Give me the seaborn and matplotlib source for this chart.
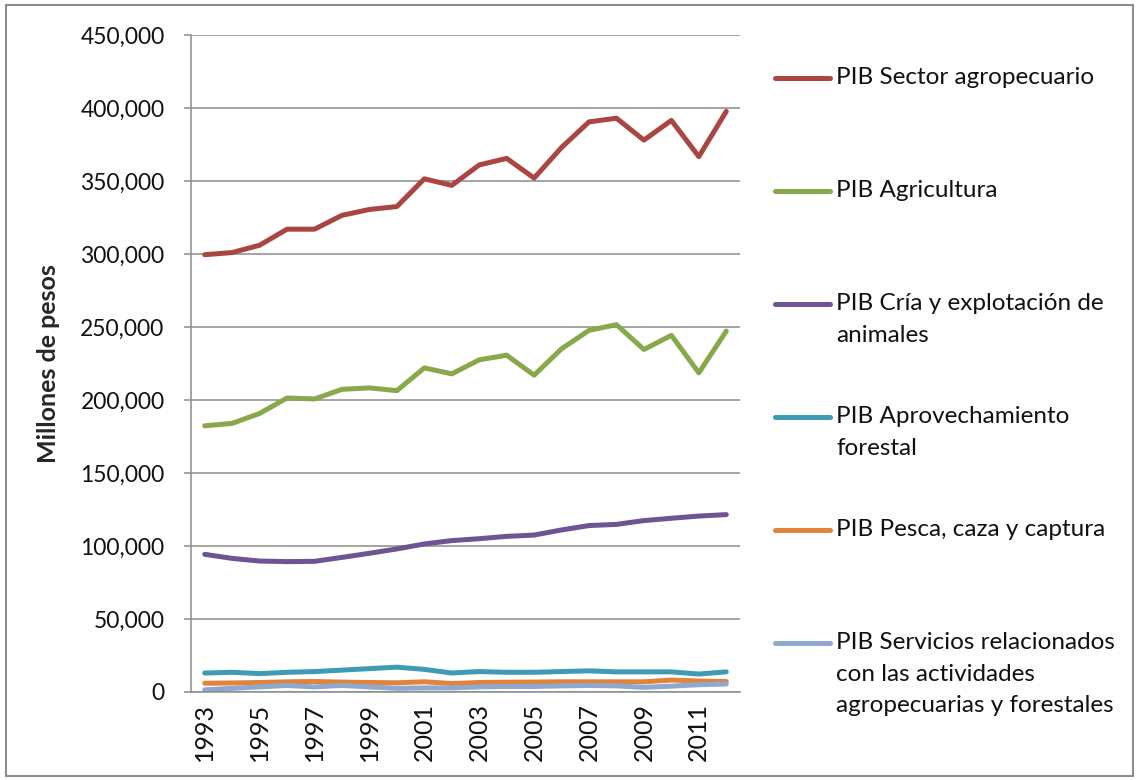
# PIB del sector agropecuario, 1993-2012

import pandas as pd
import matplotlib.pyplot as plt
import seaborn as sns
from matplotlib.lines import Line2D
from matplotlib.patches import Rectangle
from matplotlib.ticker import FuncFormatter

# Data (millones de pesos)
years = list(range(1993, 2013))

sector = [299500, 301000, 306000, 317000, 317000, 326500, 330500, 332500, 351500, 347000,
          361000, 365500, 352000, 373000, 390500, 393000, 378000, 391500, 366700, 397700]
agricultura = [182300, 184000, 190800, 201400, 200700, 207300, 208300, 206400, 222000, 217900,
               227500, 230700, 217000, 235100, 247700, 251600, 234600, 244300, 218600, 247200]
cria = [94300, 91500, 89700, 89300, 89500, 92200, 95000, 98000, 101400, 103700,
        105000, 106600, 107500, 111000, 114000, 114800, 117400, 119000, 120500, 121500]
forestal = [13000, 13500, 12600, 13500, 14000, 15000, 16000, 17000, 15500, 13000,
            14000, 13500, 13500, 14000, 14500, 13800, 13800, 13800, 12300, 13800]
pesca = [6000, 6200, 6500, 7000, 7200, 6800, 6500, 6300, 7000, 5800,
         6500, 6700, 6800, 7000, 7000, 7000, 7000, 8200, 7500, 7200]
servicios = [1500, 2500, 3500, 4500, 3500, 4500, 3500, 2500, 2800, 2800,
             3500, 3800, 3800, 4200, 4500, 4200, 3200, 4000, 5000, 5500]

series_names = ['PIB Sector agropecuario', 'PIB Agricultura',
                'PIB Cría y explotación de animales', 'PIB Aprovechamiento forestal',
                'PIB Pesca, caza y captura',
                'PIB Servicios relacionados con las actividades agropecuarias y forestales']
legend_labels = ['PIB Sector agropecuario',
                 'PIB Agricultura',
                 'PIB Cría y explotación de\nanimales',
                 'PIB Aprovechamiento\nforestal',
                 'PIB Pesca, caza y captura',
                 'PIB Servicios relacionados\ncon las actividades\nagropecuarias y forestales']
colors = ['#AA4541', '#88A84C', '#6E5395', '#3E9BB3', '#E08439', '#8FA8D0']

all_values = [sector, agricultura, cria, forestal, pesca, servicios]
df = pd.concat(
    [pd.DataFrame({'Año': years, 'Serie': name, 'Valor': vals})
     for name, vals in zip(series_names, all_values)],
    ignore_index=True
)

sns.set_style('white')
plt.rcParams['font.family'] = ['Lato', 'DejaVu Sans']

W, H = 1138, 780
fig = plt.figure(figsize=(W / 100, H / 100), dpi=100)
ax = fig.add_axes([191 / W, 1 - 692 / H, (740 - 191) / W, (692 - 35) / H])

grey = '#8c8c8c'

sns.lineplot(data=df, x='Año', y='Valor', hue='Serie', hue_order=series_names,
             palette=colors, linewidth=3.6, legend=False, ax=ax,
             solid_joinstyle='round', solid_capstyle='round')

ax.set_xlim(1992.5, 2012.5)
ax.set_ylim(0, 450000)
ax.set_xticks(years[::2])
ax.set_xticklabels([str(y) for y in years[::2]], rotation=90)
ax.set_yticks(range(0, 450001, 50000))
ax.yaxis.set_major_formatter(FuncFormatter(lambda v, p: f'{v:,.0f}'))

ax.yaxis.grid(True, color=grey, linewidth=1.1)
ax.set_axisbelow(True)
for side in ['top', 'right']:
    ax.spines[side].set_visible(False)
for side in ['left', 'bottom']:
    ax.spines[side].set_color(grey)
    ax.spines[side].set_linewidth(1.1)

ax.tick_params(axis='y', length=5, color=grey, width=1.1, pad=14, labelsize=16.5,
               left=True, labelcolor='#111111')
ax.tick_params(axis='x', length=0, pad=8, labelsize=18, labelcolor='#111111')

ax.set_xlabel('')
ax.set_ylabel('Millones de pesos', fontsize=18, fontweight='bold')
ax.yaxis.set_label_coords((60 - 191) / (740 - 191), 0.5)

# legend on the right, one slot per series
for i, (lab, col) in enumerate(zip(legend_labels, colors)):
    y_px = 78 + 113 * i
    fig.add_artist(Line2D([775 / W, 830 / W], [1 - y_px / H] * 2, color=col,
                          linewidth=3.6, solid_capstyle='round',
                          transform=fig.transFigure))
    fig.text(836 / W, 1 - (y_px - 11) / H, lab, fontsize=17.5, va='top', ha='left',
             linespacing=1.62, color='#111111')

# outer chart border
fig.patches.append(Rectangle((6 / W, 4 / H), (1133 - 6) / W, (775 - 4) / H,
                             transform=fig.transFigure, fill=False,
                             edgecolor=grey, linewidth=1.5))

fig.savefig('out.png', dpi=100)
